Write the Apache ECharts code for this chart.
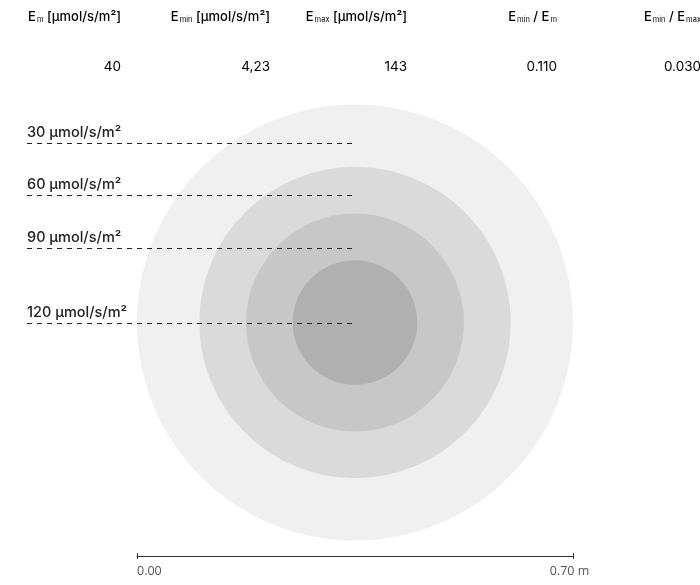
<!DOCTYPE html>
<html>
<head>
<meta charset="utf-8">
<style>
  html, body { margin: 0; padding: 0; background: #fff; }
  #chart { width: 700px; height: 585px; }
</style>
<script src="https://cdn.jsdelivr.net/npm/echarts@6/dist/echarts.min.js"></script>
</head>
<body>
<div id="chart"></div>
<script>
// Summary table: headers (main letter, subscript, rest) and values
const headerMain = ['E', 'E', 'E', 'E', 'E'];
const headerSub = ['m', 'min', 'max', 'min', 'min'];
const headerRest = [' [µmol/s/m²]', ' [µmol/s/m²]', ' [µmol/s/m²]', ' / E', ' / E'];
const headerRestSub = ['', '', '', 'm', 'max'];
const summaryValues = ['40', '4,23', '143', '0.110', '0.030'];

// Irradiance zones: level in µmol/s/m² and radius of each zone in metres
const zoneLevels = [30, 60, 90, 120];
const zoneRadii = [0.35, 0.25, 0.175, 0.10];
// Height (m) of each level's leader line, measured from the lamp centre
const leaderOffsets = [0.289, 0.2055, 0.119, 0.0];

// Lamp centre in metres, and the measured span of the scale bar
const lampCentre = [0.35, 0.35];
const spanMin = 0;
const spanMax = 0.70;

const zoneColors = ['#f0f0f0', '#dadada', '#c7c7c7', '#b0b0b0'];
const FONT = 'Inter, "Noto Sans", sans-serif';

const chart = echarts.init(document.getElementById('chart'), null, { renderer: 'canvas' });

// Right edges of the summary columns
const colRight = [121, 270, 407, 557, 701];

const headerGraphics = headerMain.map((m, i) => {
  let txt = '{m|' + m + '}{s|' + headerSub[i] + '}';
  if (headerRestSub[i]) {
    txt += '{m|' + headerRest[i] + '}{s|' + headerRestSub[i] + '}';
  } else {
    txt += '{m|' + headerRest[i] + '}';
  }
  return {
    type: 'text',
    right: 700 - colRight[i],
    top: 11,
    style: {
      text: txt,
      align: 'right',
      rich: {
        m: { fontFamily: FONT, fontSize: 13, fontWeight: 500, color: '#222', lineHeight: 16, verticalAlign: 'bottom' },
        s: { fontFamily: FONT, fontSize: 7.5, color: '#222', lineHeight: 9, verticalAlign: 'bottom', padding: [0, 0, 0, 1] }
      }
    }
  };
});

const valueGraphics = summaryValues.map((v, i) => ({
  type: 'text',
  right: 700 - colRight[i],
  top: 60,
  style: { text: v, fontFamily: FONT, fontSize: 13.5, color: '#444', align: 'right' }
}));

const zoneData = zoneRadii.map((r, i) => [lampCentre[0], lampCentre[1], r, i]);
const leaderData = zoneLevels.map((lv, i) => [lampCentre[0], lampCentre[1] + leaderOffsets[i], lv]);

const LEADER_START = 27;

const option = {
  animation: false,
  backgroundColor: '#ffffff',
  graphic: headerGraphics.concat(valueGraphics),
  grid: { left: 137, right: 127, top: 89, bottom: 29 },
  xAxis: [
    {
      type: 'value', min: spanMin, max: spanMax, interval: spanMax - spanMin,
      position: 'bottom',
      axisLine: { show: true, onZero: false, lineStyle: { color: '#333', width: 1 } },
      axisTick: { show: true, length: 3, lineStyle: { color: '#333' } },
      splitLine: { show: false },
      axisLabel: {
        margin: 9,
        padding: [0, 7, 0, 0],
        fontFamily: '"Open Sans", sans-serif', fontSize: 12.5, color: '#555',
        alignMinLabel: 'left', alignMaxLabel: 'center',
        formatter: v => v.toFixed(2) + (v === spanMax ? ' m' : '')
      }
    },
    {
      type: 'value', min: spanMin, max: spanMax, interval: spanMax - spanMin,
      position: 'bottom',
      axisLine: { show: false, onZero: false },
      axisTick: { show: true, inside: true, length: 3, lineStyle: { color: '#333' } },
      splitLine: { show: false },
      axisLabel: { show: false }
    }
  ],
  yAxis: { type: 'value', min: -0.025, max: 0.725, show: false },
  series: [
    {
      type: 'custom',
      name: 'zones',
      clip: false,
      data: zoneData,
      renderItem: function (params, api) {
        const c = api.coord([api.value(0), api.value(1)]);
        const r = api.size([api.value(2), 0])[0];
        return {
          type: 'circle',
          shape: { cx: c[0], cy: c[1], r: r },
          style: { fill: zoneColors[api.value(3)] }
        };
      },
      z: 1
    },
    {
      type: 'custom',
      name: 'leaders',
      clip: false,
      data: leaderData,
      renderItem: function (params, api) {
        const end = api.coord([api.value(0), api.value(1)]);
        const y = Math.round(end[1]) + 0.5;
        return {
          type: 'group',
          children: [
            {
              type: 'line',
              shape: { x1: LEADER_START, y1: y, x2: end[0], y2: y },
              style: { stroke: '#222', lineWidth: 1, lineDash: [5, 5] }
            },
            {
              type: 'text',
              x: LEADER_START,
              y: y - 11,
              style: {
                text: api.value(2) + ' µmol/s/m²',
                fontFamily: FONT, fontSize: 14.5, fontWeight: 500, fill: '#222',
                align: 'left', verticalAlign: 'middle'
              }
            }
          ]
        };
      },
      z: 3
    }
  ]
};

chart.setOption(option);
</script>
</body>
</html>
